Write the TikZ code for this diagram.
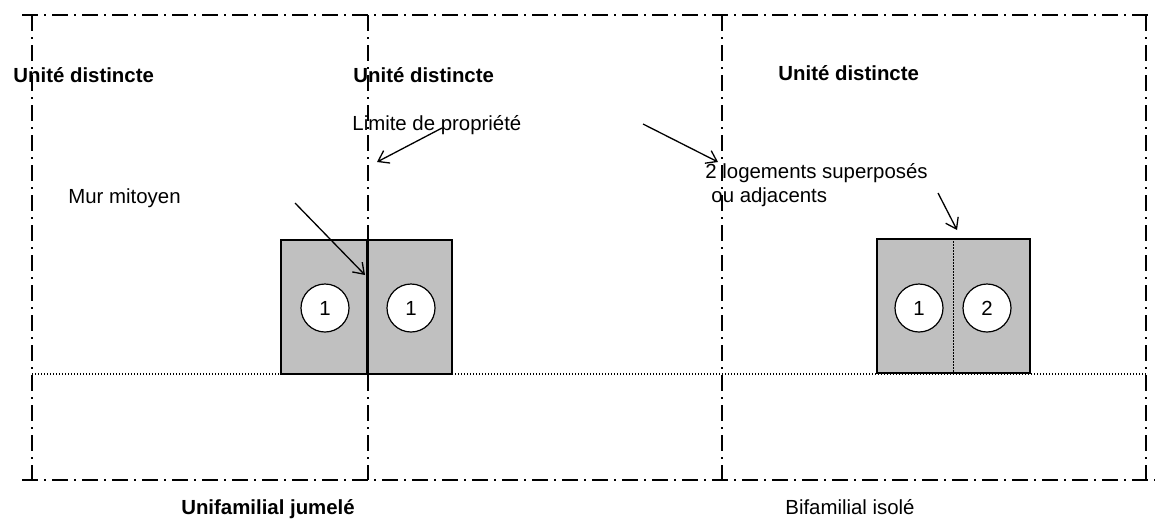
\documentclass[tikz,border=0pt]{standalone}
\usepackage{fontspec}
\setmainfont{Liberation Sans}
\usetikzlibrary{arrows.meta}
\definecolor{lotgray}{RGB}{192,192,192}
\tikzset{>={Straight Barb[length=5pt,width=7pt]},every node/.style={font=\fontsize{10.2}{12}\selectfont},
  limite/.style={line width=0.85pt,dash pattern=on 8pt off 3pt on 1pt off 3pt},
  pointille/.style={line width=0.7pt,dash pattern=on 0.7pt off 0.8pt},
  lot/.style={draw,line width=0.8pt,fill=lotgray,inner sep=0pt},
  logement/.style={circle,draw,fill=white,line width=0.6pt,minimum size=24pt,inner sep=0pt},
  fleche/.style={->,line width=0.65pt},
  gras/.style={font=\fontsize{10.2}{12}\selectfont\bfseries}}

\begin{document}
\begin{tikzpicture}[x=0.5pt,y=-0.5pt]
    \useasboundingbox (0,0) rectangle (1159,525);

    % limites de propriete
    \draw[limite] (22,15) -- (1150,15);
    \draw[limite] (22,480) -- (1155,480);
    \foreach \x in {32,368,722,1146}{
    	     \draw[limite] (\x,15) -- (\x,480);
    }
    \draw[pointille] (32,374) -- (1146,374);

    % batiments
    \node[lot,minimum width=85.5pt,minimum height=67pt] (jumele) at (366.5,307) {};
    \node[lot,minimum width=76.5pt,minimum height=67pt] (isole) at (953.5,306) {};
    \draw[line width=1.5pt] (jumele.north) ++(1,0) coordinate (murH) -- (murH |- jumele.south);
    \draw[pointille] (isole.north) -- (isole.south);

    \foreach \n/\x/\y/\k in {a/325/308/1,b/411/308/1,c/919/308/1,d/987/308/2}{
    	     \node[logement] (log\n) at (\x,\y) {\k};
    }

    % textes
    \node[gras,anchor=base west,inner sep=0pt] (unite1) at (13,82) {Unité distincte};
    \node[gras,anchor=base west,inner sep=0pt] (unite2) at (353,82) {Unité distincte};
    \node[gras,anchor=base west,inner sep=0pt] (unite3) at (778,80) {Unité distincte};
    \node[anchor=base west,inner sep=0pt] (limprop) at (352,130) {Limite de propriété};
    \node[anchor=base west,inner sep=0pt] (mur) at (68,203) {Mur mitoyen};
    \node[anchor=base west,inner sep=0pt] (deuxlog) at (705,178) {2 logements superposés};
    \node[anchor=base west,inner sep=0pt] (adj) at (711,202) {ou adjacents};
    \node[gras,anchor=base,inner sep=0pt] (titre1) at (268,514) {Unifamilial jumelé};
    \node[anchor=base,inner sep=0pt] (titre2) at (850,514) {Bifamilial isolé};

    % fleches
    \coordinate (murA) at (295,203);
    \coordinate (murB) at (365,275);
    \coordinate (limA) at (442,128);
    \coordinate (limB) at (377,162);
    \coordinate (logA) at (643,124);
    \coordinate (logB) at (718,162);
    \coordinate (adjA) at (938,193);
    \coordinate (adjB) at (957,230);
    \draw[fleche] (murA) -- (murB);
    \draw[fleche] (limA) -- (limB);
    \draw[fleche] (logA) -- (logB);
    \draw[fleche] (adjA) -- (adjB);
\end{tikzpicture}
\end{document}
